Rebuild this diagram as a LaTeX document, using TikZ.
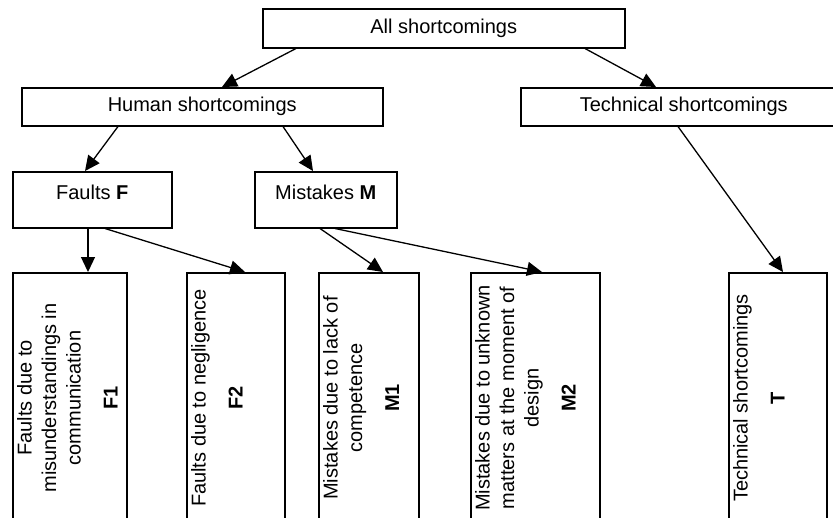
\documentclass[tikz,border=0pt]{standalone}
\usepackage{fontspec}
\setmainfont{Liberation Sans}
\usetikzlibrary{arrows.meta}

\begin{document}
\begin{tikzpicture}[x=1pt, y=-1pt,
  txt/.style={font=\fontsize{20}{24.5}\selectfont, inner sep=0pt},
  box/.style={draw, line width=1.5pt, rectangle, inner sep=0pt, anchor=north west,
              font=\fontsize{20}{24.5}\selectfont},
  vtext/.style={txt, rotate=90, anchor=north, align=center},
  arr/.style={line width=1.3pt, -{Triangle[length=15pt, width=14pt]}}]

\path[use as bounding box] (0,0) rectangle (833,517);
\clip (0,0) rectangle (833,517);

% first and second level
\node[box, minimum width=362pt, minimum height=39pt] (all) at (262,8) {All shortcomings};
\node[box, minimum width=361pt, minimum height=38pt] (human) at (21,87) {Human shortcomings};
\node[box, minimum width=326pt, minimum height=38pt] (tech) at (520,87) {Technical shortcomings};

% third level
\node[box, minimum width=159pt, minimum height=56pt] (faults) at (12,171) {};
\node[txt] (faultsT) at ([yshift=-21pt]faults.north) {Faults \textbf{F}};
\node[box, minimum width=142pt, minimum height=56pt] (mist) at (254,171) {};
\node[txt] (mistT) at ([yshift=-21pt]mist.north) {Mistakes \textbf{M}};

% bottom row, boxes run past the lower edge
\node[box, minimum width=114pt, minimum height=250pt] (F1) at (12,272) {};
\node[box, minimum width=98pt, minimum height=250pt] (F2) at (186,272) {};
\node[box, minimum width=100pt, minimum height=250pt] (M1) at (318,272) {};
\node[box, minimum width=129pt, minimum height=250pt] (M2) at (470,272) {};
\node[box, minimum width=98pt, minimum height=250pt] (T) at (728,272) {};

\node[vtext] (F1T) at (17,398) {Faults due to\\misunderstandings in\\communication\\[12.5pt]\textbf{F1}};
\node[vtext] (F2T) at (191,398) {Faults due to negligence\\[12.5pt]\textbf{F2}};
\node[vtext] (M1T) at (323,398) {Mistakes due to lack of\\competence\\[12.5pt]\textbf{M1}};
\node[vtext] (M2T) at (475,398) {Mistakes due to unknown\\matters at the moment of\\design\\[12.5pt]\textbf{M2}};
\node[vtext] (TT) at (733,398) {Technical shortcomings\\[12.5pt]\textbf{T}};

% connectors
\draw[arr] ([xshift=34pt]all.south west) -- ([xshift=201pt]human.north west);
\draw[arr] ([xshift=323pt]all.south west) -- ([xshift=136pt]tech.north west);
\draw[arr] ([xshift=97pt]human.south west) -- ([xshift=73pt]faults.north west);
\draw[arr] ([xshift=262pt]human.south west) -- ([xshift=59pt]mist.north west);
\draw[arr] ([xshift=158pt]tech.south west) -- ([xshift=55pt]T.north west);
\draw[arr] ([xshift=76pt]faults.south west) -- ([xshift=76pt]F1.north west);
\draw[arr] ([xshift=93pt]faults.south west) -- ([xshift=59pt]F2.north west);
\draw[arr] ([xshift=66pt]mist.south west) -- ([xshift=65pt]M1.north west);
\draw[arr] ([xshift=81pt]mist.south west) -- ([xshift=72pt]M2.north west);
\end{tikzpicture}
\end{document}
